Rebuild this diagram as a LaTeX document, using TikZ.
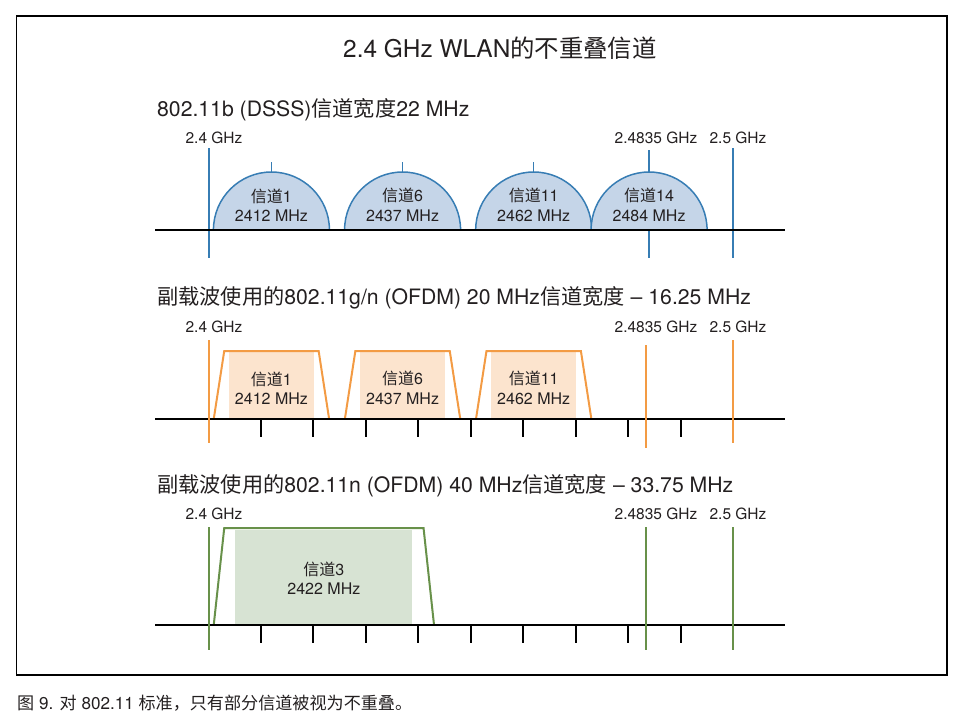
\documentclass[tikz,border=0pt]{standalone}
\usepackage{fontspec}
\setmainfont{TeX Gyre Heros}
\newfontfamily\cjk{Noto Sans CJK SC}
\usepackage{tikz}
\usetikzlibrary{positioning,calc}
\definecolor{wlanBlue}{RGB}{55,125,180}
\definecolor{wlanBlueFill}{RGB}{197,213,232}
\definecolor{wlanOrange}{RGB}{243,155,68}
\definecolor{wlanOrangeFill}{RGB}{252,228,206}
\definecolor{wlanGreen}{RGB}{104,145,74}
\definecolor{wlanGreenFill}{RGB}{215,227,211}
\definecolor{wlanText}{RGB}{35,31,32}
% frequency (MHz) to x position
\newcommand{\fx}[1]{208.5+5.245*(#1-2400)}

\begin{document}
\begin{tikzpicture}[x=1pt, y=-1pt,
    title/.style={font=\fontsize{24.4}{28}\selectfont, text=wlanText},
    heading/.style={anchor=west, inner sep=0pt, font=\fontsize{21.2}{24}\selectfont, text=wlanText},
    freqlabel/.style={inner sep=0pt, font=\fontsize{15.5}{18}\selectfont, text=wlanText},
    chanlabel/.style={align=center, inner sep=0pt, font=\fontsize{16}{19.5}\selectfont, text=wlanText},
    axis/.style={line width=2pt, black},
    tickmark/.style={line width=2pt, black},
    freqline/.style={line width=2pt},
    dome/.style={draw=wlanBlue, fill=wlanBlueFill, line width=1.5pt},
    trap/.style={line width=2pt}
  ]
  \useasboundingbox (0,0) rectangle (977,718);
  \draw[line width=1.5pt] (16.5,16) rectangle (947,675);
  \node[title] (title) at (500,48) {2.4 GHz WLAN{\cjk 的不重叠信道}};

  % 802.11b
  \node[heading] (headB) at (157,110) {802.11b (DSSS){\cjk 信道宽度}22 MHz};
  \node[freqlabel] (lbB1) at (214,138) {2.4 GHz};
  \node[freqlabel] (lbB2) at (656,138) {2.4835 GHz};
  \node[freqlabel] (lbB3) at (738,138) {2.5 GHz};
  \draw[freqline, wlanBlue] ({\fx{2400}},148) -- ({\fx{2400}},258);
  \draw[freqline, wlanBlue] ({\fx{2484}},150) -- ({\fx{2484}},258);
  \draw[freqline, wlanBlue] ({\fx{2500}},148) -- ({\fx{2500}},258);
  \foreach \f/\c/\n in {2412/1/b1, 2437/6/b6, 2462/11/b11, 2484/14/b14} {
    \filldraw[dome] ({\fx{\f}-58},230) arc (180:360:58 and 58) -- cycle;
    \draw[wlanBlue, line width=1.5pt] ({\fx{\f}},172) -- ({\fx{\f}},162);
    \node[chanlabel] (\n) at ({\fx{\f}},205) {{\cjk 信道}\c\\\f{} MHz};
  }
  \draw[axis] (155,230) -- (785,230);

  % 802.11g/n 20 MHz
  \node[heading] (headG) at (157,298) {{\cjk 副载波使用的}802.11g/n (OFDM) 20 MHz{\cjk 信道宽度} – 16.25 MHz};
  \node[freqlabel] (lbG1) at (214,327) {2.4 GHz};
  \node[freqlabel] (lbG2) at (656,327) {2.4835 GHz};
  \node[freqlabel] (lbG3) at (738,327) {2.5 GHz};
  \foreach \f/\c/\n in {2412/1/g1, 2437/6/g6, 2462/11/g11} {
    \fill[wlanOrangeFill] ({\fx{\f-8.125}},352) rectangle ({\fx{\f+8.125}},419);
    \draw[trap, wlanOrange] ({\fx{\f-11}},419) -- ({\fx{\f-9}},351) -- ({\fx{\f+9}},351) -- ({\fx{\f+11}},419);
    \node[chanlabel] (\n) at ({\fx{\f}},388) {{\cjk 信道}\c\\\f{} MHz};
  }
  \draw[axis] (155,419) -- (785,419);
  \foreach \f in {2410,2420,...,2490}
    \draw[tickmark] ({\fx{\f}},419) -- ({\fx{\f}},437);
  \draw[freqline, wlanOrange] ({\fx{2400}},340) -- ({\fx{2400}},443);
  \draw[freqline, wlanOrange] ({\fx{2483.5}},345) -- ({\fx{2483.5}},448);
  \draw[freqline, wlanOrange] ({\fx{2500}},340) -- ({\fx{2500}},443);

  % 802.11n 40 MHz
  \node[heading] (headN) at (157,486) {{\cjk 副载波使用的}802.11n (OFDM) 40 MHz{\cjk 信道宽度} – 33.75 MHz};
  \node[freqlabel] (lbN1) at (214,514) {2.4 GHz};
  \node[freqlabel] (lbN2) at (656,514) {2.4835 GHz};
  \node[freqlabel] (lbN3) at (738,514) {2.5 GHz};
  \fill[wlanGreenFill] ({\fx{2422-16.875}},530) rectangle ({\fx{2422+16.875}},625);
  \draw[trap, wlanGreen] ({\fx{2401}},625) -- ({\fx{2403}},528) -- ({\fx{2441}},528) -- ({\fx{2443}},625);
  \node[chanlabel] (n3) at ({\fx{2422}},578) {{\cjk 信道}3\\2422 MHz};
  \draw[axis] (155,625) -- (785,625);
  \foreach \f in {2410,2420,...,2490}
    \draw[tickmark] ({\fx{\f}},625) -- ({\fx{\f}},643);
  \draw[freqline, wlanGreen] ({\fx{2400}},527) -- ({\fx{2400}},650);
  \draw[freqline, wlanGreen] ({\fx{2483.5}},527) -- ({\fx{2483.5}},650);
  \draw[freqline, wlanGreen] ({\fx{2500}},527) -- ({\fx{2500}},650);

  \node[anchor=west, inner sep=0pt, font=\fontsize{17.1}{18}\selectfont, text=wlanText] (caption) at (17,703)
    {{\cjk 图} 9. {\cjk 对} 802.11 {\cjk 标准，只有部分信道被视为不重叠。}};
\end{tikzpicture}
\end{document}
